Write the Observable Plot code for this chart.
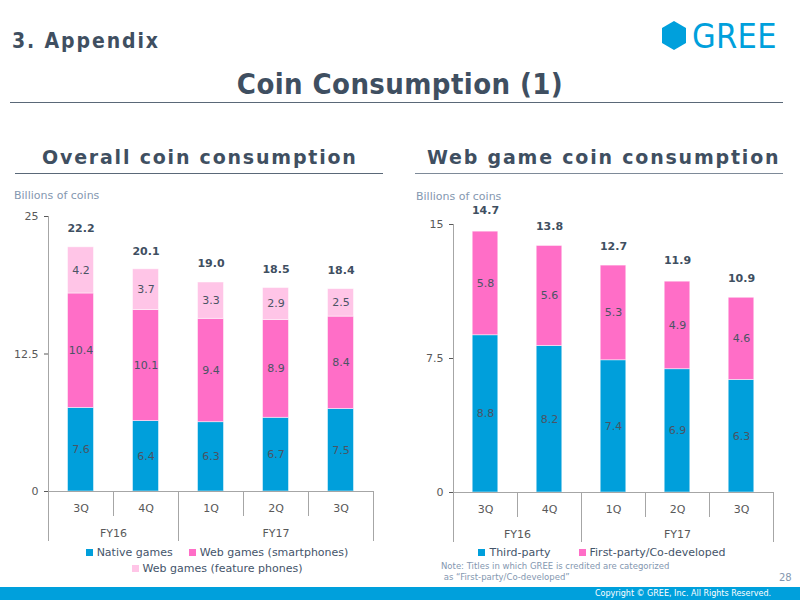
<!DOCTYPE html>
<html><head><meta charset="utf-8">
<script src="https://cdn.jsdelivr.net/npm/d3@7"></script>
<script src="https://cdn.jsdelivr.net/npm/@observablehq/plot@0.6"></script>
<style>
html,body{margin:0;padding:0;background:#fff;}
#page{position:relative;width:800px;height:600px;overflow:hidden;font-family:"DejaVu Sans",Verdana,sans-serif;color:#3F4F61;}
.abs{position:absolute;white-space:nowrap;}
.hr{position:absolute;height:0;border-top:1px solid #5A6878;}
.legend{position:absolute;font-size:11px;color:#44546A;}
.legend .row{display:flex;justify-content:center;align-items:center;height:16px;}
.legend .item{display:flex;align-items:center;}
.legend .sw{width:7px;height:7px;margin-right:4px;display:inline-block;}
svg{overflow:visible;}
</style></head><body><div id="page"></div>
<script>
// ---------- data ----------
const quarters = ["3Q", "4Q", "1Q", "2Q", "3Q"];
const fiscalYears = ["FY16", "FY16", "FY17", "FY17", "FY17"];

const overallSeries = ["Native games", "Web games (smartphones)", "Web games (feature phones)"];
const nativeGames = [7.6, 6.4, 6.3, 6.7, 7.5];
const webSmartphones = [10.4, 10.1, 9.4, 8.9, 8.4];
const webFeaturePhones = [4.2, 3.7, 3.3, 2.9, 2.5];
const overallTotals = [22.2, 20.1, 19.0, 18.5, 18.4];
const overallTicks = [0, 12.5, 25];
const overallColors = ["#009FDB", "#FF6EC7", "#FFC5E7"];

const webSeries = ["Third-party", "First-party/Co-developed"];
const thirdParty = [8.8, 8.2, 7.4, 6.9, 6.3];
const firstParty = [5.8, 5.6, 5.3, 4.9, 4.6];
const webTotals = [14.7, 13.8, 12.7, 11.9, 10.9];
const webTicks = [0, 7.5, 15];
const webColors = ["#009FDB", "#FF6EC7"];

// ---------- layout helpers ----------
const page = document.getElementById("page");
const FONT = '"DejaVu Sans", Verdana, sans-serif';
function addDiv(html, css) {
  const d = document.createElement("div");
  d.className = "abs";
  d.innerHTML = html;
  Object.assign(d.style, css);
  page.appendChild(d);
  return d;
}
function addLine(left, top, width, color) {
  const d = document.createElement("div");
  d.className = "hr";
  Object.assign(d.style, {left: left + "px", top: top + "px", width: width + "px"});
  if (color) d.style.borderTopColor = color;
  page.appendChild(d);
}

// ---------- header ----------
addDiv("3. Appendix", {left: "12px", top: "29px", fontFamily: '"DejaVu Sans Condensed", "DejaVu Sans", sans-serif', fontWeight: "bold", fontSize: "21px", letterSpacing: "1.9px", color: "#3F4F61"});
addDiv("Coin Consumption (1)", {left: "0px", width: "800px", textAlign: "center", top: "67px", fontFamily: '"DejaVu Sans Condensed", "DejaVu Sans", sans-serif', fontWeight: "bold", fontSize: "29px", letterSpacing: "0.4px", color: "#3F4F61"});
addLine(10, 102, 773, "#5A6878");

// logo
addDiv('<svg width="24" height="29" viewBox="0 0 24 29"><polygon points="12,0 24,7 24,22 12,29 0,22 0,7" fill="#00A0DC"/></svg>', {left: "662px", top: "21px"});
addDiv("GREE", {left: "692px", top: "16px", fontFamily: '"DejaVu Sans Condensed", "DejaVu Sans", sans-serif', fontSize: "34px", color: "#00A0DC", letterSpacing: "0.3px"});

// panel titles
addDiv("Overall coin consumption", {left: "42px", top: "146px", fontWeight: "bold", fontSize: "19px", letterSpacing: "1.8px", color: "#3F4F61"});
addLine(15, 173, 368, "#5A6878");
addDiv("Web game coin consumption", {left: "427px", top: "146px", fontWeight: "bold", fontSize: "19px", letterSpacing: "1.8px", color: "#3F4F61"});
addLine(415, 173, 368, "#7E8A98");

addDiv("Billions of coins", {left: "14px", top: "189px", fontSize: "11px", color: "#8497B0"});
addDiv("Billions of coins", {left: "416px", top: "190px", fontSize: "11px", color: "#8497B0"});

// ---------- chart builder ----------
function panel({left, top, height, marginLeft, marginTop, series, values, totals, colors, ticks, axisTop}) {
  const long = [];
  series.forEach((s, si) => values[si].forEach((v, i) => long.push({
    pos: i + 0.5, x1: i + 0.3, x2: i + 0.7, series: s, value: v
  })));
  const tot = totals.map((t, i) => ({pos: i + 0.5, total: t}));
  const chart = Plot.plot({
    width: 400, height, marginLeft, marginRight: 27, marginTop, marginBottom: 1,
    x: {domain: [0, 5], axis: null},
    y: {domain: [0, ticks[ticks.length - 1]], ticks, tickSize: 4, tickPadding: 6, label: null, tickFormat: d => String(d)},
    color: {domain: series, range: colors},
    style: {fontFamily: FONT, fontSize: "11px", color: "#595959", background: "transparent", overflow: "visible"},
    marks: [
      Plot.rectY(long, {x1: "x1", x2: "x2", y: "value", fill: "series", stroke: "#ffffff", strokeWidth: 0.8, strokeOpacity: 0.6}),
      Plot.text(long, Plot.stackY({x: "pos", y: "value", text: d => d.value.toFixed(1), fill: "#4A5464", fontSize: 11})),
      Plot.text(tot, {x: "pos", y: "total", text: d => d.total.toFixed(1), dy: -19, fontWeight: "bold", fill: "#3F4F61", fontSize: 11}),
      Plot.ruleY([0], {stroke: "#A6A6A6"}),
      Plot.ruleX([0], {stroke: "#A6A6A6"})
    ]
  });
  const holder = document.createElement("div");
  holder.className = "abs";
  Object.assign(holder.style, {left: left + "px", top: top + "px"});
  holder.appendChild(chart);
  page.appendChild(holder);

  // hierarchical category axis
  const bounds = d3.range(0, quarters.length + 1).map(b => ({
    b, depth: (b === 0 || b === quarters.length || fiscalYears[b - 1] !== fiscalYears[b]) ? 2 : 1
  }));
  const qLabels = quarters.map((q, i) => ({pos: i + 0.5, q}));
  const fyLabels = d3.groups(quarters.map((q, i) => ({fy: fiscalYears[i], pos: i + 0.5})), d => d.fy)
    .map(([fy, arr]) => ({fy, pos: d3.mean(arr, d => d.pos)}));
  const axis = Plot.plot({
    width: 400, height: 52, marginLeft, marginRight: 27, marginTop: 0, marginBottom: 2,
    x: {domain: [0, 5], axis: null},
    y: {domain: [0, 2], reverse: true, axis: null},
    style: {fontFamily: FONT, fontSize: "11px", color: "#595959", background: "transparent", overflow: "visible"},
    marks: [
      Plot.ruleX(bounds, {x: "b", y1: 0, y2: "depth", stroke: "#A6A6A6"}),
      Plot.text(qLabels, {x: "pos", y: 0.66, text: "q", fill: "#595959", fontSize: 11}),
      Plot.text(fyLabels, {x: "pos", y: 1.66, text: "fy", fill: "#595959", fontSize: 11})
    ]
  });
  const ah = document.createElement("div");
  ah.className = "abs";
  Object.assign(ah.style, {left: left + "px", top: axisTop + "px"});
  ah.appendChild(axis);
  page.appendChild(ah);
}

panel({left: 0, top: 190, height: 302, marginLeft: 48, marginTop: 26,
  series: overallSeries, values: [nativeGames, webSmartphones, webFeaturePhones],
  totals: overallTotals, colors: overallColors, ticks: overallTicks, axisTop: 491});
panel({left: 400, top: 190, height: 303, marginLeft: 53, marginTop: 34,
  series: webSeries, values: [thirdParty, firstParty],
  totals: webTotals, colors: webColors, ticks: webTicks, axisTop: 492});

// ---------- legends ----------
function legend(rows, colorsOf, left, width, top, gap) {
  const lg = document.createElement("div");
  lg.className = "legend";
  Object.assign(lg.style, {left: left + "px", width: width + "px", top: top + "px"});
  rows.forEach(row => {
    const r = document.createElement("div");
    r.className = "row";
    r.style.gap = gap + "px";
    row.forEach(name => {
      const it = document.createElement("span");
      it.className = "item";
      it.innerHTML = `<span class="sw" style="background:${colorsOf(name)}"></span>${name}`;
      r.appendChild(it);
    });
    lg.appendChild(r);
  });
  page.appendChild(lg);
}
legend([overallSeries.slice(0, 2), overallSeries.slice(2)], n => overallColors[overallSeries.indexOf(n)], 0, 434, 544, 16);
legend([webSeries], n => webColors[webSeries.indexOf(n)], 402, 400, 544, 28);

// note, page number, footer
addDiv('Note: Titles in which GREE is credited are categorized<br>&nbsp;as “First-party/Co-developed”', {left: "441px", top: "561px", fontSize: "8.5px", lineHeight: "11px", color: "#8497B0"});
addDiv("28", {left: "779px", top: "572px", fontSize: "10px", color: "#8497B0"});
const foot = document.createElement("div");
Object.assign(foot.style, {position: "absolute", left: "0px", top: "587px", width: "800px", height: "13px", background: "#00A0DC"});
page.appendChild(foot);
addDiv("Copyright © GREE, Inc. All Rights Reserved.", {right: "29px", top: "588px", fontSize: "8px", color: "#ffffff", lineHeight: "11px"});
</script>
</body></html>
